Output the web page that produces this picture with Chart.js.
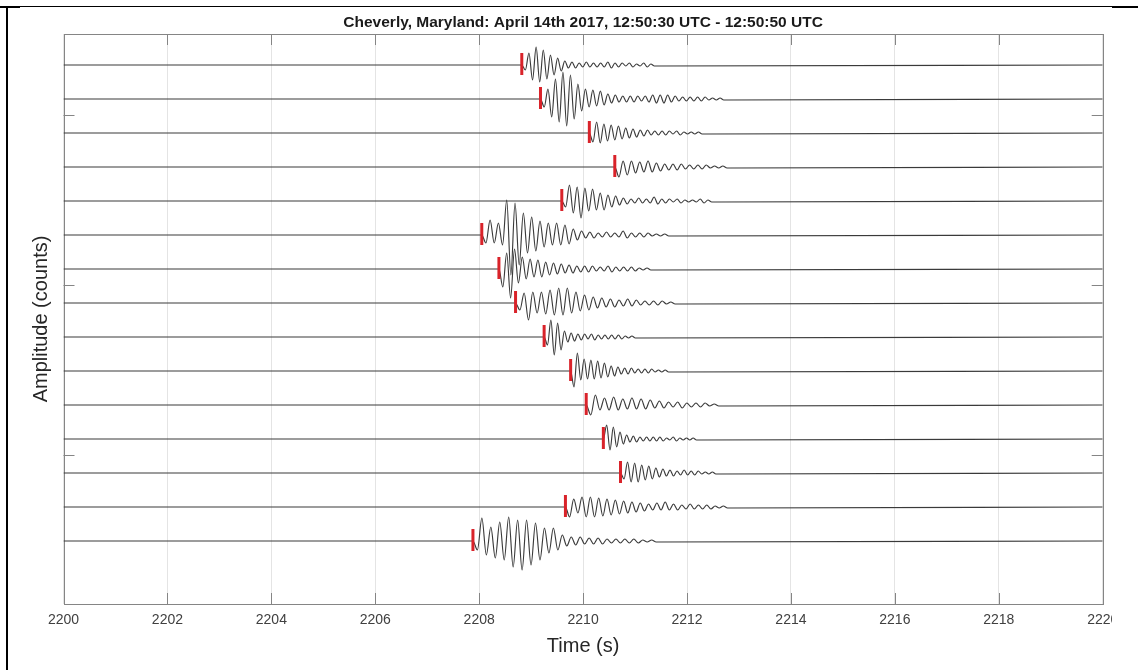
<!DOCTYPE html>
<html>
<head>
<meta charset="utf-8">
<title>Cheverly, Maryland seismograms</title>
<script src="https://cdn.jsdelivr.net/npm/chart.js@4.4.1/dist/chart.umd.min.js"></script>
<style>
  html, body { margin: 0; padding: 0; background: #fff; }
  #wrap { position: relative; width: 1138px; height: 670px; overflow: hidden; }
  #clip { position: absolute; left: 0; top: 0; width: 1112px; height: 670px; overflow: hidden; }
  #seis { position: absolute; left: 0; top: 0; }
  .rule { position: absolute; background: #000; }
</style>
</head>
<body>
<div id="wrap">
  <div id="clip"><canvas id="seis" width="1118" height="670"></canvas></div>
  <div class="rule" style="left:6px;top:6px;width:2px;height:664px"></div>
  <div class="rule" style="left:0;top:6px;width:20px;height:2px"></div>
  <div class="rule" style="left:6px;top:6px;width:1106px;height:1px"></div>
  <div class="rule" style="left:1112px;top:6px;width:26px;height:2px"></div>
</div>
<script>
/* ========= DATA ========= */

// x axis tick labels (s) and the unlabelled amplitude ticks
const timeTicks = [2200, 2202, 2204, 2206, 2208, 2210, 2212, 2214, 2216, 2218, 2220];
const ampTicks = [-50, -220, -390];

// red picks, one per trace, top to bottom (s)
const pickTimes = [2208.82, 2209.18, 2210.12, 2210.61, 2209.59, 2208.05, 2208.38, 2208.70,
                   2209.25, 2209.76, 2210.06, 2210.39, 2210.72, 2209.66, 2207.88];

// sample spacing of the peak/trough readings after each pick (s)
const halfCycles = [0.069, 0.072, 0.070, 0.080, 0.074, 0.080, 0.075, 0.083,
                    0.065, 0.065, 0.088, 0.064, 0.068, 0.080, 0.086];

// peak / trough amplitudes read after each pick (counts)
const amp01 = [0, -5, 12, -15, 18, -17, 15, -14, 10, -10, 7, -6, 4, -3, 3, -3, 2, -2, 3, -2, 2, -2, 2, -2, 3, -3, 2, -2, 2, -1, 2, -2, 1, -1, 2, -2, 1, -1];
const amp02 = [0, -8, 10, -18, 20, -23, 27, -27, 24, -20, 15, -12, 10, -8, 9, -7, 8, -6, 5, -4, 4, -3, 3, -3, 3, -3, 3, -2, 3, -3, 4, -4, 4, -4, 4, -3, 3, -2, 2, -2, 2, -2, 2, -2, 2, -1, 1, -1, 1, -1];
const amp03 = [0, -9, 11, -10, 9, -8, 8, -7, 7, -6, 5, -5, 4, -4, 3, -3, 3, -2, 2, -2, 2, -2, 2, -1, 2, -2, 1, -1, 1, -1, 1, -1];
const amp04 = [0, -10, 6, -8, 6, -6, 5, -5, 6, -5, 4, -4, 3, -3, 3, -3, 3, -2, 2, -2, 2, -2, 2, -1, 1, -1, 1, -1];
const amp05 = [0, -6, 16, -12, 14, -17, 13, -10, 12, -9, 8, -9, 6, -6, 5, -4, 3, -3, 2, -2, 3, -2, 2, -2, 4, -3, 2, -2, 2, -1, 2, -2, 1, -1, 1, -1, 2, -2, 1, -1];
const amp06 = [0, -8, 15, -8, 12, -10, 35, -40, 32, -30, 22, -18, 18, -16, 14, -12, 12, -10, 12, -10, 10, -9, 6, -5, 4, -3, 3, -3, 2, -2, 3, -2, 2, -2, 4, -3, 2, -2, 2, -2, 2, -1, 1, -1, 1, -1];
const amp07 = [0, -18, 16, -29, 20, -14, 12, -10, 10, -8, 9, -8, 7, -6, 6, -5, 5, -4, 4, -4, 3, -3, 3, -3, 3, -2, 2, -2, 3, -3, 2, -2, 2, -2, 2, -2, 1, -1, 1, -1];
const amp08 = [0, -7, 10, -17, 11, -10, 11, -11, 13, -12, 15, -12, 15, -10, 11, -8, 8, -7, 6, -5, 5, -4, 4, -4, 3, -3, 4, -3, 3, -2, 2, -2, 2, -2, 2, -1, 1, -1];
const amp09 = [0, -8, 17, -18, 14, -13, 6, -5, 4, -4, 3, -3, 3, -2, 3, -3, 2, -2, 2, -2, 2, -2, 2, -2, 1, -1, 1, -1];
const amp10 = [0, -16, 18, -9, 12, -8, 11, -8, 10, -7, 8, -6, 5, -5, 4, -3, 3, -3, 3, -2, 2, -2, 2, -2, 2, -1, 1, -1, 1, -1];
const amp11 = [0, -10, 10, -5, 7, -5, 8, -5, 6, -4, 7, -4, 6, -4, 5, -3, 4, -3, 3, -2, 3, -3, 2, -2, 2, -2, 2, -1, 1, -1];
const amp12 = [0, 14, -11, 12, -8, 7, -5, 4, -3, 3, -3, 2, -2, 2, -2, 2, -2, 2, -2, 1, -1, 2, -2, 1, -1, 1, -1, 1, -1];
const amp13 = [0, -6, 11, -9, 10, -9, 8, -7, 7, -6, 5, -4, 4, -3, 3, -3, 2, -2, 3, -2, 2, -2, 2, -1, 1, -1, 1, -1];
const amp14 = [0, -10, 8, -6, 10, -10, 10, -10, 9, -9, 8, -8, 7, -7, 6, -6, 5, -5, 4, -4, 3, -3, 4, -3, 5, -3, 3, -3, 2, -2, 3, -2, 2, -2, 2, -2, 1, -1, 1, -1];
const amp15 = [0, -9, 23, -14, 14, -17, 19, -19, 24, -26, 21, -29, 21, -24, 18, -19, 13, -12, 13, -9, 6, -5, 4, -4, 4, -3, 3, -3, 3, -3, 2, -2, 2, -2, 2, -2, 2, -2, 1, -1, 1, -1];

const traces = [amp01, amp02, amp03, amp04, amp05, amp06, amp07, amp08,
                amp09, amp10, amp11, amp12, amp13, amp14, amp15];

/* ========= DATASETS ========= */

const traceSpacing = 34;
const tStart = timeTicks[0];
const tEnd = timeTicks[timeTicks.length - 1];

const traceSets = traces.map((amps, i) => {
  const base = -traceSpacing * i;
  const pts = [{ x: tStart, y: base }];
  amps.forEach((a, k) => pts.push({ x: pickTimes[i] + k * halfCycles[i], y: base + a }));
  pts.push({ x: tEnd, y: base });
  return {
    data: pts,
    borderColor: "#3a3a3a",
    borderWidth: 1.15,
    pointRadius: 0,
    cubicInterpolationMode: "monotone",
    order: 2
  };
});

const pickSet = {
  data: pickTimes.map((t, i) => ({ x: t, y: -traceSpacing * i + 1 })),
  showLine: false,
  pointStyle: "line",
  pointRotation: 90,
  pointRadius: 11,
  pointBorderWidth: 3,
  pointBorderColor: "#d9232a",
  pointBackgroundColor: "#d9232a",
  order: 1
};

/* ========= FRAME + INWARD TICKS ========= */

const frameTicks = {
  id: "frameTicks",
  beforeDatasetsDraw(chart) {
    const { ctx, chartArea: a, scales: { x, y } } = chart;
    const len = 11;
    ctx.save();
    ctx.strokeStyle = "#858585";
    ctx.lineWidth = 1;
    ctx.beginPath();
    timeTicks.slice(1, -1).forEach(t => {
      const px = Math.round(x.getPixelForValue(t)) + 0.5;
      ctx.moveTo(px, a.bottom); ctx.lineTo(px, a.bottom - len);
      ctx.moveTo(px, a.top); ctx.lineTo(px, a.top + len);
    });
    ampTicks.forEach(v => {
      const py = Math.round(y.getPixelForValue(v)) + 0.5;
      ctx.moveTo(a.left, py); ctx.lineTo(a.left + len, py);
      ctx.moveTo(a.right, py); ctx.lineTo(a.right - len, py);
    });
    ctx.stroke();
    ctx.strokeRect(Math.round(a.left) + 0.5, Math.round(a.top) + 0.5,
                   Math.round(a.right - a.left), Math.round(a.bottom - a.top));
    ctx.restore();
  }
};

/* ========= CHART ========= */

Chart.defaults.font.family = "'Liberation Sans', Arial, Helvetica, sans-serif";

new Chart(document.getElementById("seis"), {
  type: "line",
  data: { datasets: [pickSet, ...traceSets] },
  options: {
    responsive: false,
    animation: false,
    devicePixelRatio: 1,
    layout: { autoPadding: false, padding: { left: 0, right: 15.3, top: 0, bottom: 0 } },
    plugins: {
      legend: { display: false },
      tooltip: { enabled: false },
      title: {
        display: true,
        fullSize: false,
        text: "Cheverly, Maryland: April 14th 2017, 12:50:30 UTC - 12:50:50 UTC",
        color: "#1a1a1a",
        font: { size: 15.5, weight: "bold" },
        padding: { top: 13.7, bottom: 1.7 }
      }
    },
    scales: {
      x: {
        type: "linear",
        min: tStart,
        max: tEnd,
        afterBuildTicks: s => { s.ticks = timeTicks.map(v => ({ value: v })); },
        afterFit: s => { s.height = 66; s.paddingLeft = 0; s.paddingRight = 0; },
        ticks: {
          color: "#404040",
          font: { size: 14 },
          padding: 8,
          maxRotation: 0,
          autoSkip: false,
          callback: v => String(v)
        },
        grid: { color: "#e4e4e4", drawTicks: false },
        border: { display: false },
        title: {
          display: true,
          text: "Time (s)",
          color: "#262626",
          font: { size: 20 },
          padding: { top: 0, bottom: 12 }
        }
      },
      y: {
        type: "linear",
        min: -539,
        max: 31,
        afterBuildTicks: s => { s.ticks = ampTicks.map(v => ({ value: v })); },
        afterFit: s => { s.width = 63.5; },
        ticks: { display: false },
        grid: { display: false, drawTicks: false },
        border: { display: false },
        title: {
          display: true,
          text: "Amplitude (counts)",
          color: "#262626",
          font: { size: 20 },
          padding: { top: 29, bottom: 0 }
        }
      }
    }
  },
  plugins: [frameTicks]
});
</script>
</body>
</html>
